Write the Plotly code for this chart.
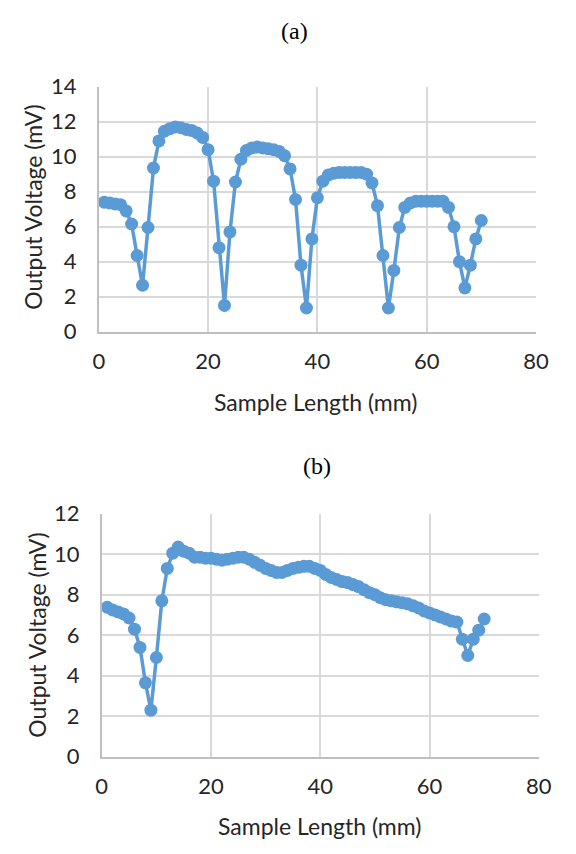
import plotly.graph_objects as go

# ---- data ----
length_a = list(range(1, 71))
voltage_a = [7.4, 7.35, 7.3, 7.25, 6.9, 6.15, 4.35, 2.65, 5.95, 9.35,
             10.9, 11.45, 11.6, 11.7, 11.65, 11.55, 11.5, 11.35, 11.1, 10.4,
             8.6, 4.8, 1.5, 5.7, 8.55, 9.85, 10.35, 10.5, 10.55, 10.5,
             10.45, 10.4, 10.3, 10.05, 9.3, 7.55, 3.8, 1.35, 5.3, 7.65,
             8.6, 8.95, 9.05, 9.1, 9.1, 9.1, 9.1, 9.1, 9.0, 8.5,
             7.2, 4.35, 1.35, 3.5, 5.95, 7.1, 7.35, 7.45, 7.45, 7.45,
             7.45, 7.45, 7.45, 7.1, 6.0, 4.0, 2.5, 3.8, 5.3, 6.35]

length_b = list(range(1, 71))
voltage_b = [7.38, 7.25, 7.15, 7.05, 6.85, 6.3, 5.4, 3.65, 2.3, 4.9,
             7.7, 9.3, 10.05, 10.35, 10.15, 10.05, 9.85, 9.85, 9.8, 9.8,
             9.75, 9.7, 9.75, 9.8, 9.85, 9.85, 9.75, 9.6, 9.45, 9.3,
             9.2, 9.1, 9.1, 9.2, 9.3, 9.35, 9.4, 9.4, 9.3, 9.2,
             9.0, 8.85, 8.75, 8.65, 8.6, 8.5, 8.4, 8.25, 8.1, 8.0,
             7.85, 7.75, 7.7, 7.65, 7.6, 7.55, 7.45, 7.35, 7.2, 7.1,
             7.0, 6.9, 6.8, 6.7, 6.65, 5.8, 5.0, 5.8, 6.25, 6.8]

panel_titles = ["(a)", "(b)"]
x_title = "Sample Length (mm)"
y_title = "Output Voltage (mV)"
x_ticks = [0, 20, 40, 60, 80]
y_ticks_a = [0, 2, 4, 6, 8, 10, 12, 14]
y_ticks_b = [0, 2, 4, 6, 8, 10, 12]

W, H = 576, 854
BLUE = "#5B9BD5"
GRID = "#D9D9D9"
TXT = "#262626"
SANS = "Lato, 'Open Sans', sans-serif"
SERIF = "'Liberation Serif', 'Times New Roman', serif"

fig = go.Figure()
fig.add_trace(go.Scatter(x=length_a, y=voltage_a, mode="lines+markers",
                         line=dict(color=BLUE, width=3.5),
                         marker=dict(color=BLUE, size=13),
                         xaxis="x", yaxis="y", showlegend=False))
fig.add_trace(go.Scatter(x=length_b, y=voltage_b, mode="lines+markers",
                         line=dict(color=BLUE, width=3.5),
                         marker=dict(color=BLUE, size=13),
                         xaxis="x2", yaxis="y2", showlegend=False))

def px_x(p):
    return p / W

def px_y(p):
    return 1 - p / H

axis_common = dict(showgrid=True, gridcolor=GRID, gridwidth=1.8,
                   showline=True, linecolor="#BFBFBF", linewidth=1.8,
                   zeroline=False, ticks="", mirror=False,
                   tickfont=dict(family=SANS, size=22, color=TXT))

fig.update_layout(
    width=W, height=H,
    margin=dict(l=0, r=0, t=0, b=0),
    paper_bgcolor="white", plot_bgcolor="white",
    xaxis=dict(domain=[px_x(96), px_x(548)], range=[0, 80], tickvals=x_ticks,
               anchor="y", ticklabelstandoff=9, **axis_common),
    yaxis=dict(domain=[px_y(328), px_y(75)], range=[0, 14], tickvals=y_ticks_a,
               anchor="x", ticklabelstandoff=16, **axis_common),
    xaxis2=dict(domain=[px_x(99), px_x(551)], range=[0, 80], tickvals=x_ticks,
                anchor="y2", ticklabelstandoff=9, **axis_common),
    yaxis2=dict(domain=[px_y(767), px_y(516)], range=[0, 12], tickvals=y_ticks_b,
                anchor="x2", ticklabelstandoff=16, **axis_common),
)

anns = []
# panel titles
anns.append(dict(text=panel_titles[0], x=px_x(298), y=px_y(18), xref="paper", yref="paper",
                 showarrow=False, font=dict(family=SERIF, size=24, color="black"),
                 xanchor="center", yanchor="middle"))
anns.append(dict(text=panel_titles[1], x=px_x(322), y=px_y(467), xref="paper", yref="paper",
                 showarrow=False, font=dict(family=SERIF, size=24, color="black"),
                 xanchor="center", yanchor="middle"))
# axis titles
for cx, cy in [(320, 401), (324, 838)]:
    anns.append(dict(text=x_title, x=px_x(cx), y=px_y(cy), xref="paper", yref="paper",
                     showarrow=False, font=dict(family=SANS, size=23, color=TXT),
                     xanchor="center", yanchor="middle"))
for cx, cy in [(28, 200), (32, 641)]:
    anns.append(dict(text=y_title, x=px_x(cx), y=px_y(cy), xref="paper", yref="paper",
                     showarrow=False, textangle=-90, font=dict(family=SANS, size=23, color=TXT),
                     xanchor="center", yanchor="middle"))
fig.update_layout(annotations=anns)

fig.write_html("out.html")
